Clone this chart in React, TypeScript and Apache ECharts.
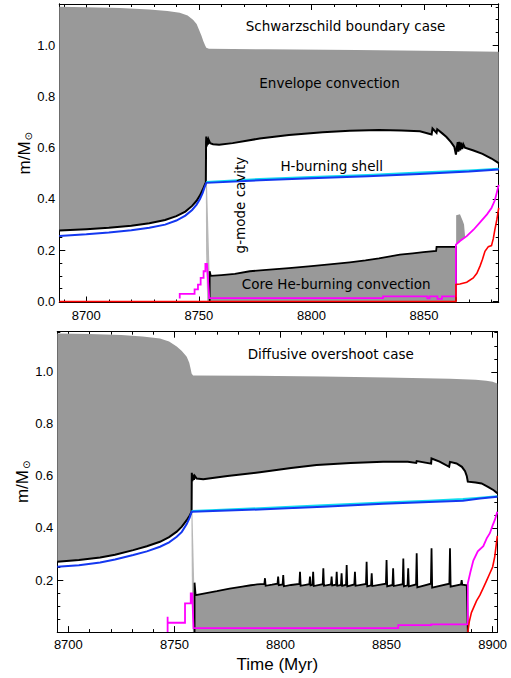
import React, { useEffect, useRef } from 'react';
import * as echarts from 'echarts';

// ---------- axis ranges and ticks ----------
const topXRange = [8688, 8883.2];
const botXRange = [8694.8, 8902.2];
const topYRange = [-0.004, 1.161];
const botYRange = [0, 1.154];

const topXMajor = [8700, 8750, 8800, 8850];
const topXMinor = [8690, 8710, 8720, 8730, 8740, 8760, 8770, 8780, 8790, 8810, 8820, 8830, 8840, 8860, 8870, 8880];
const botXMajor = [8700, 8750, 8800, 8850, 8900];
const botXMinor = [8710, 8720, 8730, 8740, 8760, 8770, 8780, 8790, 8810, 8820, 8830, 8840, 8860, 8870, 8880, 8890];
const topYMajor = [0, 0.2, 0.4, 0.6, 0.8, 1.0];
const botYMajor = [0.2, 0.4, 0.6, 0.8, 1.0];
const yMajorTicks = [0, 0.2, 0.4, 0.6, 0.8, 1.0];
const yMinor = [0.05, 0.1, 0.15, 0.25, 0.3, 0.35, 0.45, 0.5, 0.55, 0.65, 0.7, 0.75, 0.85, 0.9, 0.95, 1.05, 1.1, 1.15];

// ---------- top panel: Schwarzschild boundary case ----------
const topStarMass = [[8688, 1.15], [8700, 1.148], [8715, 1.145], [8728, 1.14], [8736, 1.134], [8741.5, 1.127], [8745, 1.116], [8747.4, 1.1], [8749, 1.083], [8750.2, 1.058], [8751.2, 1.036], [8752, 1.016], [8752.8, 0.999], [8753.3, 0.99], [8754.5, 0.986], [8780, 0.984], [8820, 0.981], [8860, 0.978], [8883.2, 0.975]];
const topEnvBase = [[8688, 0.277], [8700, 0.282], [8710, 0.288], [8720, 0.296], [8728, 0.305], [8735, 0.318], [8740, 0.333], [8744, 0.351], [8747, 0.373], [8749, 0.393], [8750.5, 0.414], [8751.7, 0.436], [8752.6, 0.455], [8753.1, 0.465], [8753.2, 0.62], [8753.3, 0.644], [8753.5, 0.605], [8753.7, 0.638], [8754, 0.612], [8754.3, 0.632], [8755, 0.618], [8756.3, 0.614], [8759, 0.612], [8765, 0.618], [8777, 0.636], [8790, 0.65], [8805, 0.66], [8817, 0.666], [8830, 0.669], [8840, 0.667], [8848.2, 0.664], [8853.4, 0.652], [8853.8, 0.675], [8855.6, 0.658], [8855.9, 0.672], [8858, 0.657], [8860, 0.642], [8862, 0.622], [8863.5, 0.603], [8864.2, 0.573], [8864.6, 0.6], [8865, 0.622], [8865.3, 0.585], [8865.7, 0.623], [8866.1, 0.59], [8866.5, 0.62], [8867, 0.595], [8867.5, 0.613], [8868.2, 0.6], [8872, 0.589], [8876, 0.576], [8880, 0.558], [8883.2, 0.54]];
const topHShell = [[8688, 0.256], [8700, 0.262], [8710, 0.269], [8720, 0.278], [8728, 0.288], [8735, 0.3], [8740, 0.316], [8744, 0.335], [8747, 0.357], [8749, 0.378], [8750.5, 0.4], [8751.7, 0.424], [8752.6, 0.447], [8753.3, 0.463], [8777, 0.473], [8800, 0.481], [8825, 0.489], [8848, 0.498], [8870, 0.507], [8883.2, 0.515]];
const topHShellTop = [[8753.3, 0.466], [8777, 0.478], [8800, 0.486], [8825, 0.494], [8848, 0.503], [8870, 0.511], [8883.2, 0.518]];
const topCore = [[8754.8, 0], [8754.8, 0.118], [8755.3, 0.1], [8760, 0.103], [8766, 0.108], [8772.6, 0.118], [8780, 0.123], [8790, 0.13], [8800, 0.138], [8808, 0.145], [8817, 0.153], [8824, 0.16], [8830, 0.168], [8835, 0.176], [8839.3, 0.183], [8845, 0.188], [8849.7, 0.193], [8855.4, 0.197], [8855.6, 0.213], [8864.2, 0.213], [8864.2, 0]];
const topSliver = [[8753.1, 0.462], [8753.6, 0.462], [8754.8, 0.1], [8754.8, 0], [8753.7, 0], [8753.2, 0.2]];
const topSpike = [[8864.3, 0.222], [8864.3, 0.337], [8866, 0.34], [8866.5, 0.33], [8867.2, 0.315], [8867.8, 0.3], [8868.2, 0.26], [8868.2, 0.25], [8866, 0.236]];
const topMagenta = [[8741.5, 0.012], [8741.5, 0.03], [8748.1, 0.03], [8748.1, 0.047], [8749.6, 0.047], [8749.6, 0.066], [8750.8, 0.066], [8750.8, 0.092], [8752.1, 0.092], [8752.1, 0.118], [8752.9, 0.118], [8752.9, 0.147], [8753.6, 0.147], [8754.6, 0.013], [8790, 0.013], [8831.8, 0.013], [8831.8, 0.02], [8851.5, 0.02], [8851.5, 0.012], [8852.5, 0.012], [8852.5, 0.02], [8856, 0.02], [8856, 0.01], [8858, 0.01], [8858, 0.02], [8864.2, 0.02], [8864.2, 0.222], [8866, 0.236], [8869, 0.255], [8872, 0.28], [8875, 0.31], [8878, 0.34], [8880, 0.365], [8881.5, 0.395], [8883.2, 0.455]];
const topRed = [[8688, 0], [8864.2, 0], [8864.2, 0.066], [8866, 0.068], [8869, 0.075], [8871.9, 0.092], [8873.5, 0.11], [8874.9, 0.138], [8876, 0.165], [8877.1, 0.196], [8878.6, 0.214], [8880, 0.218], [8880.8, 0.245], [8881.5, 0.28], [8882.4, 0.32], [8883.2, 0.365]];

// ---------- bottom panel: Diffusive overshoot case ----------
const botStarMass = [[8694.8, 1.147], [8710, 1.145], [8725, 1.141], [8735, 1.136], [8743.2, 1.128], [8747.5, 1.116], [8751.1, 1.097], [8753.5, 1.08], [8755.8, 1.058], [8757, 1.035], [8757.7, 1.01], [8758.1, 0.993], [8758.8, 0.986], [8785, 0.985], [8820, 0.982], [8850, 0.978], [8880, 0.973], [8892, 0.969], [8897, 0.966], [8900, 0.962], [8902.2, 0.955]];
const botEnvBase = [[8694.8, 0.27], [8705, 0.277], [8715, 0.287], [8722, 0.297], [8730.6, 0.315], [8737, 0.33], [8743.2, 0.347], [8747.5, 0.365], [8751.1, 0.386], [8753.5, 0.405], [8755.8, 0.43], [8757.2, 0.448], [8758.1, 0.462], [8758.2, 0.612], [8758.5, 0.58], [8758.8, 0.605], [8759.2, 0.585], [8759.6, 0.6], [8760.5, 0.59], [8763.6, 0.587], [8775, 0.6], [8790.3, 0.614], [8805, 0.63], [8817, 0.642], [8833, 0.65], [8848.4, 0.654], [8860, 0.654], [8864, 0.65], [8864.2, 0.657], [8871, 0.647], [8871.2, 0.667], [8875, 0.655], [8879.5, 0.635], [8879.9, 0.654], [8883, 0.648], [8885.5, 0.635], [8887, 0.618], [8887.8, 0.6], [8888.3, 0.578], [8892, 0.575], [8894.8, 0.571], [8898, 0.557], [8900.5, 0.545], [8902.2, 0.533]];
const botHShell = [[8694.8, 0.251], [8705, 0.257], [8715, 0.267], [8722, 0.279], [8730.6, 0.296], [8737, 0.31], [8743.2, 0.328], [8747.5, 0.345], [8751.1, 0.366], [8753.5, 0.385], [8755.8, 0.415], [8757.2, 0.44], [8758.1, 0.462], [8790, 0.471], [8820, 0.482], [8848.4, 0.493], [8870, 0.5], [8886, 0.505], [8894, 0.513], [8902.2, 0.52]];
const botHShellTop = [[8758.1, 0.465], [8790, 0.476], [8820, 0.487], [8848.4, 0.498], [8870, 0.505], [8886, 0.511], [8894, 0.516], [8902.2, 0.522]];
const botCore = [[8759.5, 0], [8759.5, 0.19], [8760, 0.142], [8765, 0.15], [8770, 0.157], [8776, 0.167], [8782, 0.175], [8786, 0.18], [8789, 0.183], [8792.4, 0.185], [8792.7, 0.207], [8793, 0.178], [8796, 0.182], [8798.6, 0.186], [8798.9, 0.213], [8799.2, 0.18], [8801, 0.183], [8801.3, 0.219], [8801.6, 0.176], [8805, 0.181], [8808.9, 0.185], [8809.2, 0.232], [8809.5, 0.178], [8813.6, 0.184], [8813.9, 0.213], [8814.2, 0.18], [8815.1, 0.182], [8815.4, 0.232], [8815.7, 0.177], [8819.9, 0.184], [8820.2, 0.245], [8820.5, 0.178], [8823.8, 0.183], [8824.1, 0.213], [8824.4, 0.179], [8826.2, 0.182], [8826.5, 0.232], [8826.8, 0.178], [8828.5, 0.181], [8828.8, 0.226], [8829.1, 0.178], [8830.9, 0.182], [8831.2, 0.258], [8831.5, 0.176], [8834.8, 0.183], [8835.1, 0.232], [8835.4, 0.178], [8840.3, 0.185], [8840.6, 0.27], [8840.9, 0.176], [8842.7, 0.18], [8843, 0.226], [8843.3, 0.177], [8849.7, 0.186], [8850, 0.277], [8850.3, 0.176], [8852.8, 0.181], [8853.1, 0.245], [8853.4, 0.177], [8857.6, 0.184], [8857.9, 0.283], [8858.2, 0.176], [8859.9, 0.18], [8860.2, 0.245], [8860.5, 0.176], [8863.9, 0.183], [8864.2, 0.303], [8864.5, 0.172], [8870.9, 0.186], [8871.2, 0.322], [8871.5, 0.171], [8879.6, 0.186], [8879.9, 0.322], [8880.2, 0.175], [8885.1, 0.183], [8885.4, 0.2], [8885.7, 0.182], [8887.8, 0.18], [8888.3, 0]];
const botSliver = [[8758.0, 0.462], [8758.5, 0.462], [8759.6, 0.1], [8759.6, 0], [8758.7, 0], [8758.2, 0.2]];
const botMagenta = [[8746.8, 0], [8746.8, 0.059], [8746.8, 0.036], [8755, 0.036], [8755, 0.11], [8757.7, 0.11], [8757.7, 0.149], [8758.4, 0.149], [8759, 0.015], [8800, 0.015], [8855.5, 0.015], [8855.5, 0.027], [8871, 0.027], [8871, 0.03], [8888.3, 0.03], [8888.3, 0.187], [8889.5, 0.23], [8890.9, 0.275], [8893, 0.31], [8895.6, 0.33], [8897.2, 0.36], [8898.7, 0.38], [8900, 0.41], [8901, 0.43], [8902.2, 0.462]];
const botRed = [[8888.3, 0], [8889, 0.04], [8890, 0.075], [8892.4, 0.12], [8894, 0.142], [8895.6, 0.17], [8897, 0.195], [8898.7, 0.226], [8900, 0.25], [8901, 0.29], [8902.2, 0.37]];

// ---------- colours ----------
const GRAY = '#999999';
const LIGHTGRAY = '#b8b8b8';
const BLACK = '#000000';
const BLUE = '#1438f0';
const CYAN = '#10dcf0';
const MAGENTA = '#ff00ff';
const RED = '#ff0000';

const LABEL_FONT = 'Liberation Sans';
const NOTE_FONT = '13.5px "DejaVu Sans"';

function polygonSeries(points: number[][], fill: string, axis: number, z: number) {
  return {
    type: 'custom',
    xAxisIndex: axis,
    yAxisIndex: axis,
    data: points,
    encode: { x: 0, y: 1 },
    silent: true,
    z,
    renderItem: (params: any, api: any) => {
      if (params.dataIndexInside !== 0) return { type: 'group', children: [] };
      const n = params.dataInsideLength;
      const pts: number[][] = [];
      for (let i = 0; i < n; i++) pts.push(api.coord([api.value(0, i), api.value(1, i)]));
      return { type: 'polygon', shape: { points: pts }, style: { fill, stroke: 'none' } };
    },
  };
}

function lineSeries(data: number[][], color: string, width: number, axis: number, z: number, area?: string) {
  const s: any = {
    type: 'line',
    xAxisIndex: axis,
    yAxisIndex: axis,
    data,
    showSymbol: false,
    symbol: 'none',
    silent: true,
    clip: true,
    z,
    lineStyle: { color, width, join: 'miter' },
  };
  if (area) s.areaStyle = { color: area, opacity: 1 };
  return s;
}

function xAxesFor(gMajor: number, gMinor: number, range: number[], majors: number[], minors: number[], withName: boolean) {
  const base = (grid: number, position: string) => ({
    type: 'value',
    gridIndex: grid,
    position,
    min: range[0],
    max: range[1],
    splitLine: { show: false },
    axisLine: { show: true, onZero: false, lineStyle: { color: BLACK, width: 1 } },
  });
  const major = { show: true, inside: true, length: 6, customValues: majors, lineStyle: { color: BLACK, width: 1 } };
  const minor = { show: true, inside: true, length: 3, customValues: minors, lineStyle: { color: BLACK, width: 1 } };
  const first: any = {
    ...base(gMajor, 'bottom'),
    axisTick: major,
    axisLabel: { show: true, customValues: majors, margin: 6, color: BLACK, fontSize: 13, fontFamily: LABEL_FONT, formatter: (v: number) => String(Math.round(v)) },
  };
  if (withName) {
    first.name = 'Time (Myr)';
    first.nameLocation = 'middle';
    first.nameGap = 24;
    first.nameMoveOverlap = false;
    first.nameTextStyle = { fontSize: 17, fontFamily: LABEL_FONT, color: BLACK };
  }
  return [
    first,
    { ...base(gMajor, 'top'), axisTick: major, axisLabel: { show: false } },
    { ...base(gMinor, 'bottom'), axisTick: minor, axisLabel: { show: false } },
    { ...base(gMinor, 'top'), axisTick: minor, axisLabel: { show: false } },
  ];
}

function yAxesFor(gMajor: number, gMinor: number, range: number[], labels: number[]) {
  const base = (grid: number, position: string) => ({
    type: 'value',
    gridIndex: grid,
    position,
    min: range[0],
    max: range[1],
    splitLine: { show: false },
    axisLine: { show: true, onZero: false, lineStyle: { color: BLACK, width: 1 } },
  });
  const major = { show: true, inside: true, length: 6, customValues: yMajorTicks, lineStyle: { color: BLACK, width: 1 } };
  const minor = { show: true, inside: true, length: 3, customValues: yMinor, lineStyle: { color: BLACK, width: 1 } };
  return [
    {
      ...base(gMajor, 'left'),
      axisTick: major,
      axisLabel: { show: true, customValues: labels, margin: 4, color: BLACK, fontSize: 13, fontFamily: LABEL_FONT, formatter: (v: number) => v.toFixed(1) },
      name: 'm/M{s|⊙}',
      nameLocation: 'middle',
      nameGap: 26,
      nameRotate: 90,
      nameMoveOverlap: false,
      nameTextStyle: {
        fontSize: 17,
        fontFamily: LABEL_FONT,
        color: BLACK,
        rich: { s: { fontSize: 10, fontFamily: 'DejaVu Sans', color: BLACK, verticalAlign: 'bottom', padding: [8, 0, 0, 1] } },
      },
    },
    { ...base(gMajor, 'right'), axisTick: major, axisLabel: { show: false } },
    { ...base(gMinor, 'left'), axisTick: minor, axisLabel: { show: false } },
    { ...base(gMinor, 'right'), axisTick: minor, axisLabel: { show: false } },
  ];
}

const topGrid = { left: 59.3, top: 4, width: 439.4, height: 298.5 };
const botGrid = { left: 57.3, top: 331.7, width: 440, height: 300.4 };

const note = (text: string, x: number, y: number, rotation = 0) => ({
  type: 'text',
  x,
  y,
  rotation,
  z: 100,
  silent: true,
  style: { text, fill: BLACK, font: NOTE_FONT, align: 'center', verticalAlign: 'middle' },
});

function buildOption() {
  const topEnvelope = topStarMass.concat(topEnvBase.slice().reverse());
  const botEnvelope = botStarMass.concat(botEnvBase.slice().reverse());
  return {
    animation: false,
    backgroundColor: '#ffffff',
    grid: [
      { ...topGrid, containLabel: false, outerBoundsMode: 'none' },
      { ...topGrid, containLabel: false, outerBoundsMode: 'none' },
      { ...botGrid, containLabel: false, outerBoundsMode: 'none' },
      { ...botGrid, containLabel: false, outerBoundsMode: 'none' },
    ],
    xAxis: [
      ...xAxesFor(0, 1, topXRange, topXMajor, topXMinor, false),
      ...xAxesFor(2, 3, botXRange, botXMajor, botXMinor, true),
    ],
    yAxis: [
      ...yAxesFor(0, 1, topYRange, topYMajor),
      ...yAxesFor(2, 3, botYRange, botYMajor),
    ],
    series: [
      // top panel (axes index 0)
      polygonSeries(topEnvelope, GRAY, 0, 1),
      lineSeries(topCore, BLACK, 1.8, 0, 2, GRAY),
      polygonSeries(topSliver, LIGHTGRAY, 0, 2),
      polygonSeries(topSpike, GRAY, 0, 2),
      lineSeries(topEnvBase, BLACK, 2, 0, 4),
      lineSeries(topHShellTop, CYAN, 2, 0, 5),
      lineSeries(topHShell, BLUE, 2, 0, 6),
      lineSeries(topMagenta, MAGENTA, 1.8, 0, 7),
      lineSeries(topRed, RED, 1.6, 0, 8),
      // bottom panel (axes index 4)
      polygonSeries(botEnvelope, GRAY, 4, 1),
      lineSeries(botCore, BLACK, 1.8, 4, 2, GRAY),
      polygonSeries(botSliver, LIGHTGRAY, 4, 2),
      lineSeries(botEnvBase, BLACK, 2, 4, 4),
      lineSeries(botHShellTop, CYAN, 2, 4, 5),
      lineSeries(botHShell, BLUE, 2, 4, 6),
      lineSeries(botMagenta, MAGENTA, 1.8, 4, 7),
      lineSeries(botRed, RED, 1.6, 4, 8),
    ],
    graphic: [
      note('Schwarzschild boundary case', 345.5, 26),
      note('Envelope convection', 329.5, 82.5),
      note('H-burning shell', 331.7, 166),
      note('Core He-burning convection', 336.2, 283.5),
      note('g-mode cavity', 240, 205, Math.PI / 2),
      note('Diffusive overshoot case', 330.8, 353.5),
    ],
  };
}

export default function App() {
  const ref = useRef<HTMLDivElement>(null);
  useEffect(() => {
    if (!ref.current) return;
    const chart = echarts.init(ref.current, null, { renderer: 'svg' });
    chart.setOption(buildOption() as any);
    return () => chart.dispose();
  }, []);
  return (
    <div
      ref={ref}
      style={{ position: 'absolute', left: 0, top: 0, width: 511, height: 678, background: '#fff' }}
    />
  );
}
